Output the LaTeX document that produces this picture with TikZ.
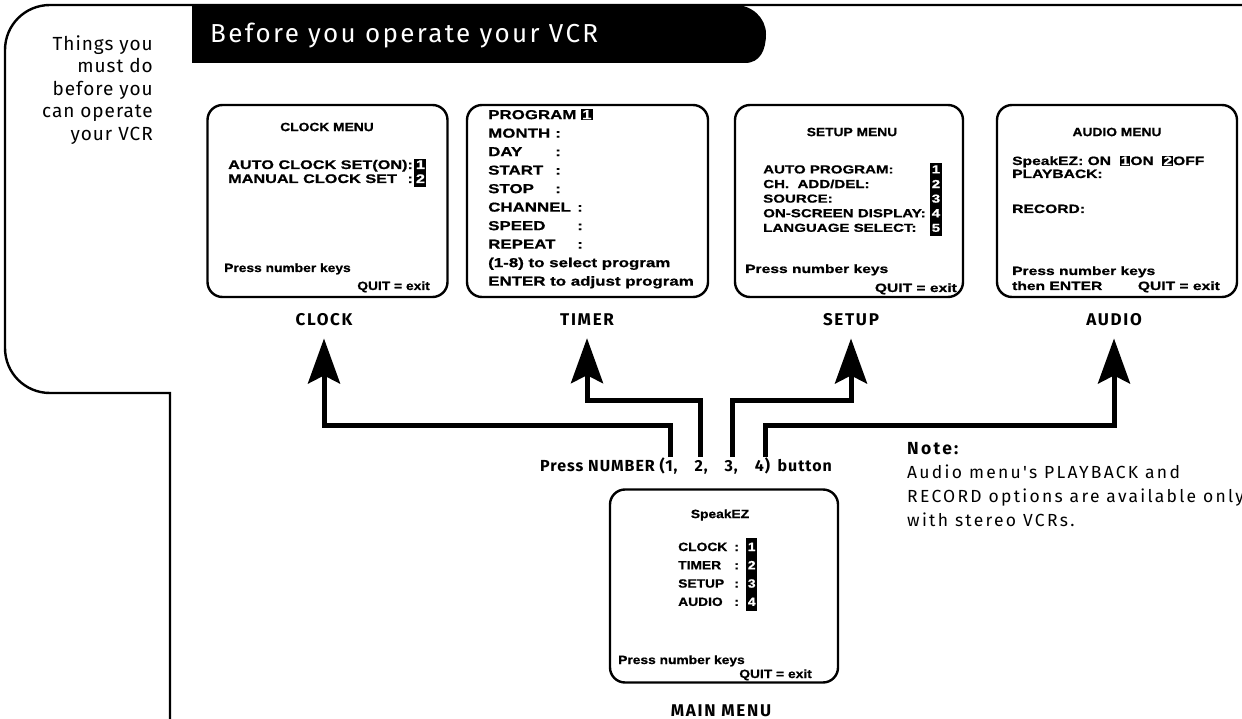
\documentclass[tikz,border=0pt]{standalone}
\usepackage{fontspec}
\usepackage{colortbl}
\usetikzlibrary{arrows.meta,positioning}
\setmainfont{Fira Sans}
\newfontfamily\menufont[FakeStretch=1.15,FakeBold=0.8]{Liberation Sans Bold}
\newfontfamily\menuwide[FakeStretch=1.3,FakeBold=0.8]{Liberation Sans Bold}
\newfontfamily\titleFont[LetterSpace=9]{Fira Sans}
\newfontfamily\noteFont[LetterSpace=13]{Fira Sans}
\newfontfamily\sideFont[LetterSpace=5]{Fira Sans}
\newfontfamily\labelFont[LetterSpace=10]{Fira Sans Bold}
\newfontfamily\pressFont[LetterSpace=6]{Fira Sans Bold}

\newcommand\keynum[1]{{\setlength\fboxsep{1pt}\colorbox{black}{\textcolor{white}{#1}}}}
\newcolumntype{K}{>{\columncolor{black}[1.5pt][1.5pt]\color{white}}c}

\tikzset{
  menubox/.style={draw, line width=2.4pt, rounded corners=15pt, minimum width=240pt, minimum height=192pt, inner sep=0pt},
  menutxt/.style={font=\menufont\fontsize{12}{15}\selectfont, inner sep=0pt, align=left},
  widetxt/.style={menutxt, font=\menuwide\fontsize{12}{15}\selectfont},
  boxlabel/.style={font=\labelFont\fontsize{17}{19}\selectfont, inner sep=12pt, anchor=base},
  flow/.style={line width=5pt, -{Stealth[length=45pt,width=32pt,inset=8pt]}},
  frameline/.style={line width=2.4pt},
}

\begin{document}
\begin{tikzpicture}[x=1pt,y=-1pt]
\useasboundingbox (0,0) rectangle (1242,719);

% page frame
\draw[frameline] (1242,5) -- (50,5) .. controls (25,5) and (5,25) .. (5,50)
  -- (5,348) .. controls (5,373) and (25,393) .. (50,393) -- (170,393) -- (170,719);

% title bar
\fill (192,5) -- (735,5) .. controls (752,5) and (766,18) .. (766,34)
  .. controls (766,50) and (760,63) .. (745,63) -- (192,63) -- cycle;
\node[anchor=base west, text=white, inner sep=0pt, font=\titleFont\fontsize{26}{30}\selectfont] (title) at (210,43) {Before you operate your VCR};

\node[anchor=north east, align=right, inner sep=0pt, font=\sideFont\fontsize{19}{22.5}\selectfont] (side) at (153,35)
  {Things you\\must do\\before you\\can operate\\your VCR};

% clock menu
\node[menubox] (clockbox) at (327.5,201) {};
\node[menutxt] (clockhead) at (327,127) {CLOCK MENU};
\node[widetxt, anchor=north west, font=\menuwide\fontsize{12.5}{14}\selectfont] (clockitems) at (228,159)
  {\begin{tabular}{@{}l@{}l@{\hspace{3pt}}K@{}}AUTO CLOCK SET(ON)&:&1\\MANUAL CLOCK SET&:&2\end{tabular}};
\node[menutxt, anchor=base west] (clockpress) at (224,272) {Press number keys};
\node[menutxt, anchor=base east] (clockquit) at (430,290) {QUIT = exit};

% timer menu
\node[menubox, minimum width=241pt] (timerbox) at (587.5,201) {};
\node[widetxt, anchor=north west, font=\menuwide\fontsize{13}{18.5}\selectfont] (timeritems) at (488,109)
  {PROGRAM \keynum{1}\\\makebox[67pt][l]{MONTH}:\\\makebox[67pt][l]{DAY}:\\\makebox[67pt][l]{START}:\\
   \makebox[67pt][l]{STOP}:\\\makebox[89pt][l]{CHANNEL}:\\\makebox[89pt][l]{SPEED}:\\\makebox[89pt][l]{REPEAT}:\\
   (1-8) to select program\\ENTER to adjust program};

% setup menu
\node[menubox, minimum width=228pt] (setupbox) at (849,201) {};
\node[menutxt] (setuphead) at (852,132) {SETUP MENU};
\node[widetxt, anchor=north west, font=\menuwide\fontsize{11.6}{14.6}\selectfont] (setupitems) at (763,163)
  {\begin{tabular}{@{}l@{\hspace{6pt}}K@{}}AUTO PROGRAM:&1\\CH.\ \ ADD/DEL:&2\\SOURCE:&3\\ON-SCREEN DISPLAY:&4\\LANGUAGE SELECT:&5\end{tabular}};
\node[widetxt, anchor=base west] (setuppress) at (745,273) {Press number keys};
\node[widetxt, anchor=base east] (setupquit) at (957,292) {QUIT = exit};

% audio menu
\node[menubox] (audiobox) at (1117,201) {};
\node[menutxt] (audiohead) at (1117,132) {AUDIO MENU};
\node[widetxt, anchor=base west] (audiospeak) at (1012,165) {SpeakEZ: ON\ \ \keynum{1}ON\ \ \keynum{2}OFF};
\node[widetxt, anchor=base west] (audioplay) at (1012,178) {PLAYBACK:};
\node[widetxt, anchor=base west] (audiorec) at (1012,213) {RECORD:};
\node[widetxt, anchor=base west] (audiopress) at (1012,275) {Press number keys};
\node[widetxt, anchor=base west] (audioenter) at (1012,290) {then ENTER};
\node[widetxt, anchor=base east] (audioquit) at (1220,290) {QUIT = exit};

% main menu
\node[menubox, minimum width=228pt, minimum height=193pt] (mainbox) at (724,586) {};
\node[menutxt] (mainhead) at (720,515) {SpeakEZ};
\node[menutxt, anchor=north west, font=\menufont\fontsize{12}{18.3}\selectfont] (mainitems) at (678,538)
  {\begin{tabular}{@{}l@{\hspace{7pt}:\hspace{9pt}}K@{}}CLOCK&1\\TIMER&2\\SETUP&3\\AUDIO&4\end{tabular}};
\node[menutxt, anchor=base west] (mainpress) at (618,664) {Press number keys};
\node[menutxt, anchor=base east] (mainquit) at (812,678) {QUIT = exit};

% labels
\node[boxlabel] (clocklbl) at (324,326) {CLOCK};
\node[boxlabel] (timerlbl) at (587,326) {TIMER};
\node[boxlabel] (setuplbl) at (851,326) {SETUP};
\node[boxlabel] (audiolbl) at (1114,326) {AUDIO};
\node[boxlabel] (mainlbl) at (721,716) {MAIN MENU};
\node[font=\pressFont\fontsize{16}{19}\selectfont, anchor=base west, inner sep=0pt] (presslbl) at (540,471)
  {Press NUMBER (1,\hspace{17pt}2,\hspace{17pt}3,\hspace{17pt}4)\hspace{3pt} button};

% arrows
\coordinate (k1) at (670,457);
\coordinate (k2) at (700,457);
\coordinate (k3) at (732,457);
\coordinate (k4) at (765,457);
\draw[flow] (k1) -- ++(0,-32) -| (clocklbl.south);
\draw[flow] (k2) -- ++(0,-57) -| (timerlbl.south);
\draw[flow] (k3) -- ++(0,-57) -| (setuplbl.south);
\draw[flow] (k4) -- ++(0,-32) -| (audiolbl.south);

% note
\node[anchor=north west, align=left, inner sep=0pt, font=\noteFont\fontsize{17.5}{24}\selectfont] (note) at (907,442)
  {\textbf{Note:}\\Audio menu's PLAYBACK and\\RECORD options are available only\\with stereo VCRs.};
\end{tikzpicture}
\end{document}
